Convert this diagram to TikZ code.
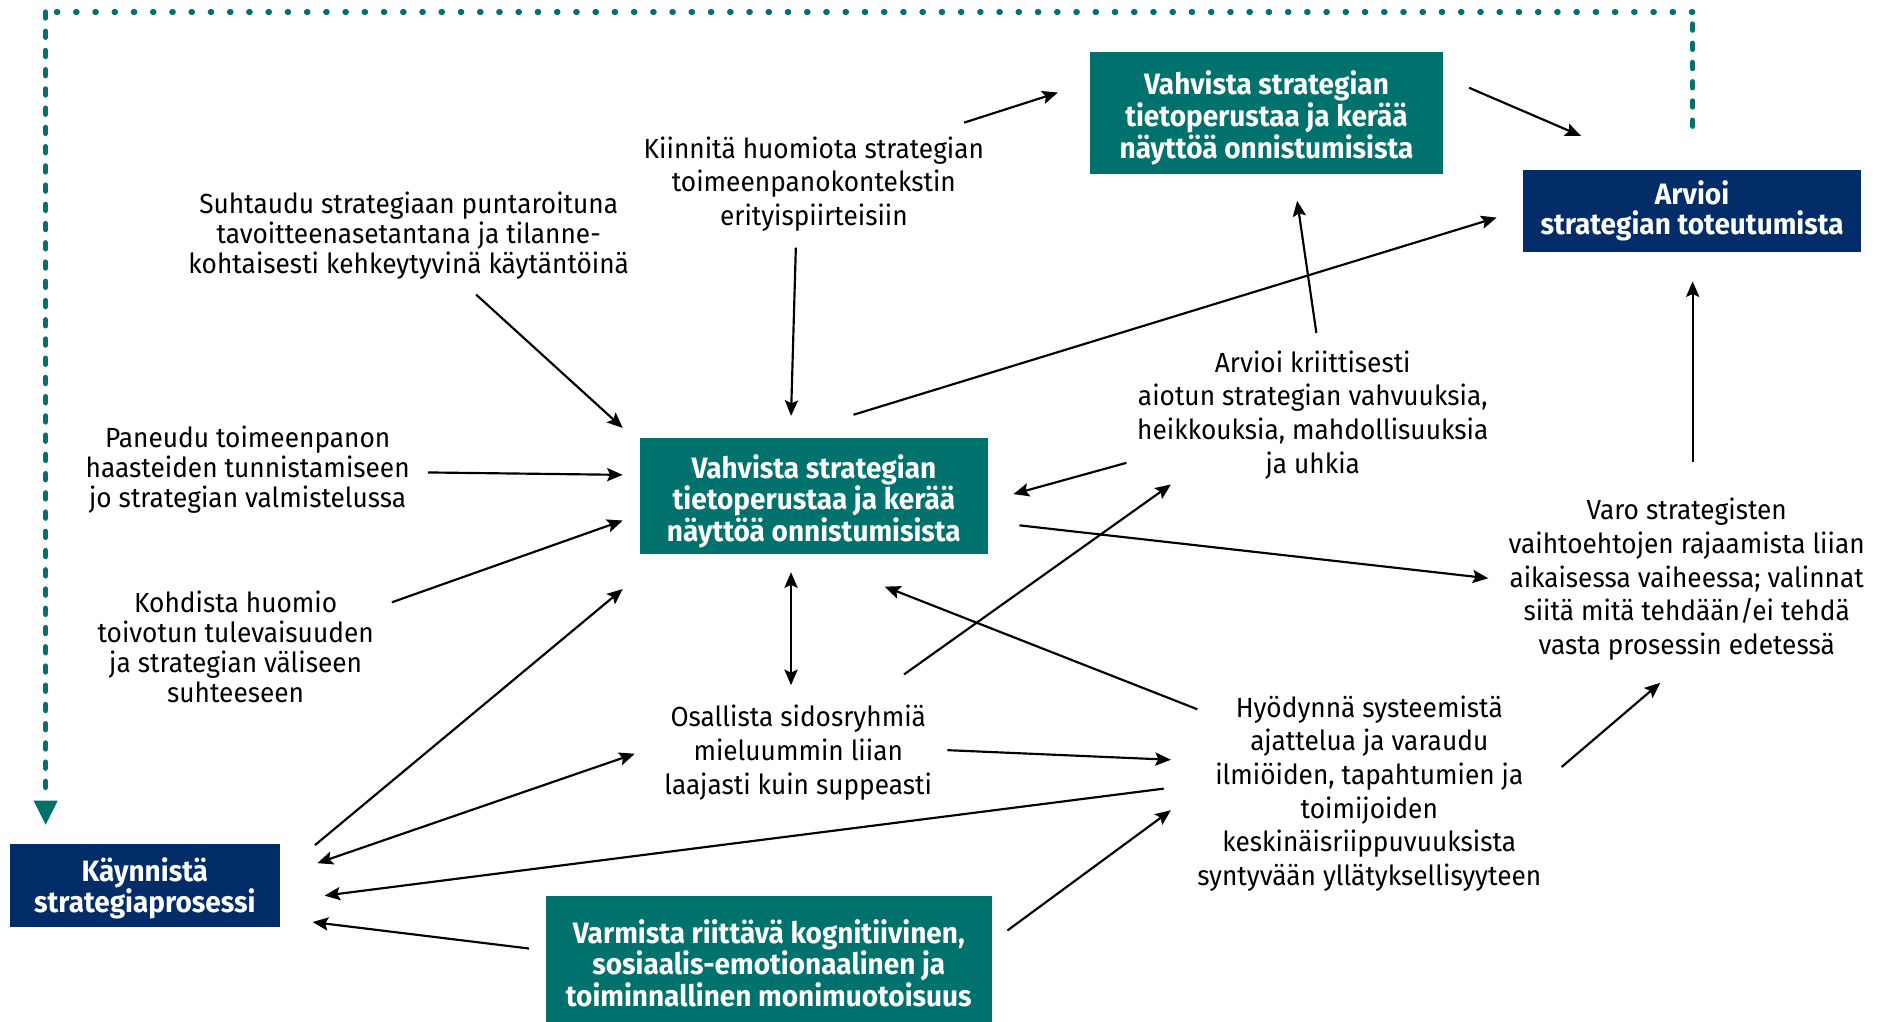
\documentclass[tikz,border=0pt]{standalone}
\usepackage{fontspec}
\setmainfont{Fira Sans}[FakeStretch=0.95]
\usetikzlibrary{arrows.meta}
\definecolor{teal1}{RGB}{0,114,109}
\definecolor{navy1}{RGB}{2,45,104}
\begin{document}
\begin{tikzpicture}[x=1pt,y=-1pt,
 tbox/.style={fill=teal1, inner sep=0pt},
 nbox/.style={fill=navy1, inner sep=0pt},
 btxt/.style={text=white, font=\bfseries\fontsize{24.5}{24.5}\selectfont, align=center, inner sep=0pt},
 ntxt/.style={text=white, font=\bfseries\fontsize{24.5}{25.5}\selectfont, align=center, inner sep=0pt},
 txt/.style={align=center, inner sep=0pt, text=black, font=\fontsize{23}{25}\selectfont},
 txtw/.style={align=center, inner sep=0pt, text=black, font=\fontsize{23}{28}\selectfont},
 tip/.tip={Stealth[length=13pt,width=11pt,inset=2.5pt]},
 arr/.style={line width=1.8pt, -tip},
 darr/.style={line width=1.8pt, tip-tip},
 hdots/.style={draw=teal1, line width=4.5pt, line cap=round, dash pattern=on 1pt off 15pt},
 vdots/.style={draw=teal1, line width=4.5pt, line cap=round, dash pattern=on 5pt off 11pt},
]
\useasboundingbox (0,0) rectangle (1568,850);

% boxes
\node[tbox, minimum width=293pt, minimum height=102pt] (vtop) at (1053.5,94) {};
\node[btxt, yshift=-4pt] (vtop-t) at (vtop.center) {Vahvista strategian\\tietoperustaa ja kerää\\näyttöä onnistumisista};
\node[nbox, minimum width=281pt, minimum height=69pt] (arv) at (1407.5,175.5) {};
\node[ntxt] (arv-t) at (arv.center) {Arvioi\\strategian toteutumista};
\node[tbox, minimum width=290pt, minimum height=97pt] (vmid) at (677,412.5) {};
\node[btxt, yshift=-4.5pt] (vmid-t) at (vmid.center) {Vahvista strategian\\tietoperustaa ja kerää\\näyttöä onnistumisista};
\node[nbox, minimum width=225pt, minimum height=69pt] (kay) at (120.5,736.5) {};
\node[ntxt, yshift=-2.5pt] (kay-t) at (kay.center) {Käynnistä\\strategiaprosessi};
\node[tbox, minimum width=371pt, minimum height=105pt] (var) at (639.5,797.5) {};
\node[btxt, yshift=-3.5pt] (var-t) at (var.center) {Varmista riittävä kognitiivinen,\\sosiaalis-emotionaalinen ja\\toiminnallinen monimuotoisuus};

% texts
\node[txtw] (kiin) at (677,153) {Kiinnitä huomiota strategian\\toimeenpanokontekstin\\erityispiirteisiin};
\node[txt] (suht) at (340,196) {Suhtaudu strategiaan puntaroituna\\tavoitteenasetantana ja tilanne-\\kohtaisesti kehkeytyvinä käytäntöinä};
\node[txt] (pane) at (206,391) {Paneudu toimeenpanon\\haasteiden tunnistamiseen\\jo strategian valmistelussa};
\node[txt] (kohd) at (196,538) {Kohdista huomio\\toivotun tulevaisuuden\\ja strategian väliseen\\suhteeseen};
\node[txtw] (osal) at (664,626) {Osallista sidosryhmiä\\mieluummin liian\\laajasti kuin suppeasti};
\node[txtw] (krit) at (1092,345) {Arvioi kriittisesti\\aiotun strategian vahvuuksia,\\heikkouksia, mahdollisuuksia\\ja uhkia};
\node[txtw] (varo) at (1403,482) {Varo strategisten\\vaihtoehtojen rajaamista liian\\aikaisessa vaiheessa; valinnat\\siitä mitä tehdään/ei tehdä\\vasta prosessin edetessä};
\node[txtw] (hyod) at (1139,660) {Hyödynnä systeemistä\\ajattelua ja varaudu\\ilmiöiden, tapahtumien ja\\toimijoiden\\keskinäisriippuvuuksista\\syntyvään yllätyksellisyyteen};

% dashed feedback loop
\coordinate (dA) at (1408,105);
\coordinate (dB) at (1408,10);
\coordinate (dC) at (38,10);
\coordinate (dD) at (38,664);
\coordinate (dE) at (38,686);
\draw[vdots] (dA) -- (dB);
\draw[hdots] (dB) -- (dC);
\draw[vdots] (dC) -- (dD);
\fill[teal1] (28,666) -- (48,666) -- (dE) -- cycle;

% arrow end points
\coordinate (kiin-a) at (802,102);   \coordinate (vtop-a) at (880,77);
\coordinate (vtop-b) at (1222,73);   \coordinate (arv-a) at (1315,113);
\coordinate (kiin-b) at (662,206);   \coordinate (vmid-a) at (658,346);
\coordinate (suht-a) at (396,245);   \coordinate (vmid-b) at (518,356);
\coordinate (pane-a) at (356,393);   \coordinate (vmid-c) at (518,395);
\coordinate (kohd-a) at (326,501);   \coordinate (vmid-d) at (518,433);
\coordinate (kay-a) at (262,703);    \coordinate (vmid-e) at (518,490);
\coordinate (vmid-f) at (658,476);   \coordinate (osal-a) at (658,570);
\coordinate (vmid-g) at (710,345);   \coordinate (arv-b) at (1245,181);
\coordinate (krit-a) at (1095,277);  \coordinate (vtop-c) at (1079,167);
\coordinate (krit-b) at (937,385);   \coordinate (vmid-h) at (843,411);
\coordinate (osal-b) at (752,561);   \coordinate (krit-c) at (974,403);
\coordinate (vmid-i) at (848,437);   \coordinate (varo-a) at (1238,481);
\coordinate (hyod-a) at (996,590);   \coordinate (vmid-j) at (736,488);
\coordinate (osal-c) at (788,624);   \coordinate (hyod-b) at (974,632);
\coordinate (osal-d) at (528,627);   \coordinate (kay-b) at (264,718);
\coordinate (hyod-c) at (968,656);   \coordinate (kay-c) at (270,745);
\coordinate (var-a) at (440,789);    \coordinate (kay-d) at (260,767);
\coordinate (var-b) at (838,774);    \coordinate (hyod-d) at (974,674);
\coordinate (hyod-e) at (1299,638);  \coordinate (varo-b) at (1381,568);
\coordinate (varo-c) at (1408,384);  \coordinate (arv-c) at (1408,234);

\draw[arr] (kiin-a) -- (vtop-a);
\draw[arr] (vtop-b) -- (arv-a);
\draw[arr] (kiin-b) -- (vmid-a);
\draw[arr] (suht-a) -- (vmid-b);
\draw[arr] (pane-a) -- (vmid-c);
\draw[arr] (kohd-a) -- (vmid-d);
\draw[arr] (kay-a) -- (vmid-e);
\draw[darr] (vmid-f) -- (osal-a);
\draw[arr] (vmid-g) -- (arv-b);
\draw[arr] (krit-a) -- (vtop-c);
\draw[arr] (krit-b) -- (vmid-h);
\draw[arr] (osal-b) -- (krit-c);
\draw[arr] (vmid-i) -- (varo-a);
\draw[arr] (hyod-a) -- (vmid-j);
\draw[arr] (osal-c) -- (hyod-b);
\draw[darr] (osal-d) -- (kay-b);
\draw[arr] (hyod-c) -- (kay-c);
\draw[arr] (var-a) -- (kay-d);
\draw[arr] (var-b) -- (hyod-d);
\draw[arr] (hyod-e) -- (varo-b);
\draw[arr] (varo-c) -- (arv-c);
\end{tikzpicture}
\end{document}
